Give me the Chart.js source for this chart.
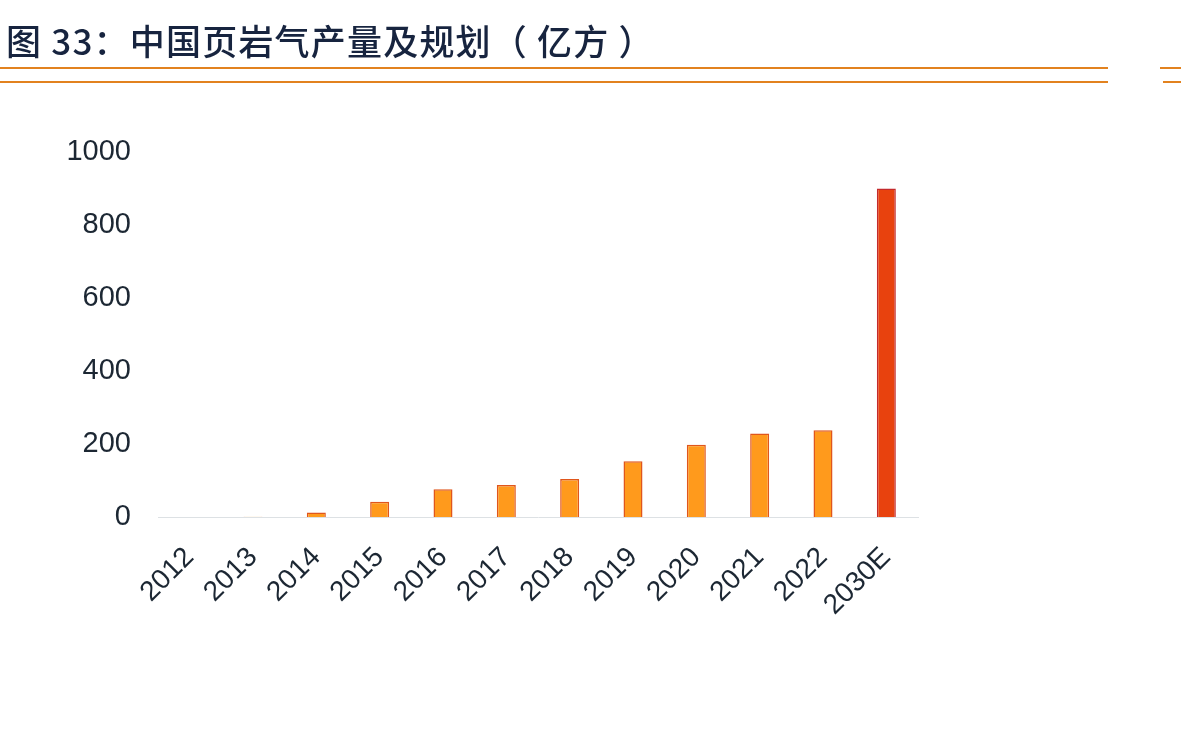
<!DOCTYPE html>
<html>
<head>
<meta charset="utf-8">
<script src="https://cdn.jsdelivr.net/npm/chart.js@4.4.0/dist/chart.umd.min.js"></script>
<style>
  html, body { margin: 0; padding: 0; background: #fff; }
  #wrap { position: relative; width: 1181px; height: 752px; overflow: hidden; }
  #title { position: absolute; left: 6px; top: 17px; font-family: "Noto Sans CJK SC", sans-serif; font-size: 35px; font-weight: 500; color: #17243f; white-space: nowrap; line-height: 46px; letter-spacing: 1.2px; }
  .rule { position: absolute; height: 2px; background: #e2821f; }
  #chartBox { position: absolute; left: 0; top: 0; width: 1181px; height: 752px; }
</style>
</head>
<body>
<div id="wrap">
  <div id="chartBox"><canvas id="myChart" width="1181" height="752"></canvas></div>
  <div id="title">图 33：中国页岩气产量及规划（ 亿方 ）</div>
  <div class="rule" style="left:0;top:67px;width:1108px"></div>
  <div class="rule" style="left:0;top:81px;width:1108px"></div>
  <div class="rule" style="left:1160px;top:67px;width:21px"></div>
  <div class="rule" style="left:1163px;top:81px;width:18px"></div>
</div>
<script>
const years = ["2012", "2013", "2014", "2015", "2016", "2017", "2018", "2019", "2020", "2021", "2022", "2030E"];
const output = [0.3, 1, 12, 42, 76, 88, 104, 153, 198, 229, 238, 900];
const yTicks = [0, 200, 400, 600, 800, 1000];

let fills = years.map(y => y == "2030E" ? "#e8420e" : "#ff9a1c");
let borders = years.map(y => y == "2030E" ? "#c42a2c" : "#e0561c");

var ctx = document.getElementById("myChart").getContext('2d');
var myChart = new Chart(ctx, {
  type: 'bar',
  data: {
    labels: years,
    datasets: [{
      data: output,
      backgroundColor: fills,
      borderColor: borders,
      borderWidth: 1.5,
      barPercentage: 0.3,
      categoryPercentage: 1
    }]
  },
  options: {
    responsive: false,
    animation: false,
    devicePixelRatio: 1,
    layout: { padding: { top: 152, right: 263, left: 0, bottom: 0 } },
    plugins: { legend: { display: false }, tooltip: { enabled: false } },
    scales: {
      x: {
        grid: { display: false, drawTicks: false },
        border: { display: true, color: '#dde1e4', width: 1 },
        ticks: {
          minRotation: 45, maxRotation: 45, padding: 24,
          color: '#1c2733',
          font: { family: 'Liberation Sans', size: 28 }
        },
        afterFit: function(scale) { scale.height = 235; }
      },
      y: {
        min: 0, max: 1000,
        afterBuildTicks: function(scale) { scale.ticks = yTicks.map(v => ({ value: v })); },
        grid: { display: false, drawTicks: false },
        border: { display: false },
        ticks: {
          padding: 27,
          color: '#1c2733',
          font: { family: 'Liberation Sans', size: 29 },
          callback: function(v) { return String(v); }
        },
        afterFit: function(scale) { scale.width = 158; }
      }
    }
  }
});
</script>
</body>
</html>
